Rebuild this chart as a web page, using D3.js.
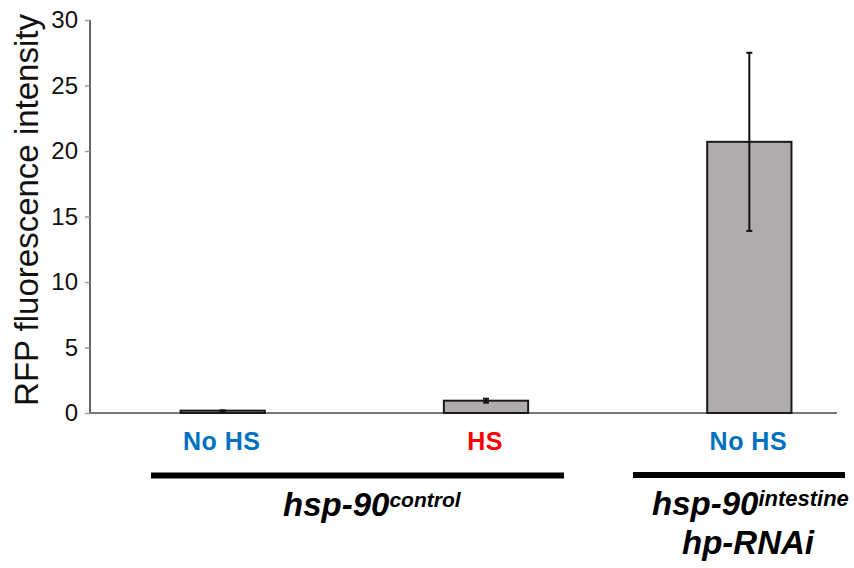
<!DOCTYPE html>
<html><head><meta charset="utf-8">
<script src="https://cdn.jsdelivr.net/npm/d3@7"></script>
<style>body{margin:0;background:#fff;} svg{display:block;font-family:Arial,"Liberation Sans",sans-serif;}</style>
</head><body>
<script>
const categories = ["No HS", "HS", "No HS"];
const catColors = ["#0070C0", "#FF0000", "#0070C0"];
const values = [0.18, 0.94, 20.7];
const errors = [0.02, 0.15, 6.8];
const yTicks = [0, 5, 10, 15, 20, 25, 30];

const W = 854, H = 568;
const svg = d3.select("body").append("svg").attr("width", W).attr("height", H);

const y = d3.scaleLinear().domain([0, 30]).range([413, 20]);
const x = d3.scaleBand().domain(d3.range(categories.length)).range([91, 881]).paddingInner(0.68).paddingOuter(0.34);

// y axis
const yAxis = d3.axisLeft(y).tickValues(yTicks).tickSize(5).tickPadding(7);
const ga = svg.append("g").attr("transform", "translate(90,0)").call(yAxis);
ga.select(".domain").attr("stroke", "#666").attr("stroke-width", 2).attr("d", "M0,20V413");
ga.selectAll(".tick line").attr("stroke", "#999").attr("stroke-width", 1.5);
ga.selectAll(".tick text").attr("font-size", 24).attr("fill", "#111").attr("font-family", "Arial, 'Liberation Sans', sans-serif");

// x axis baseline
svg.append("line").attr("x1", 90).attr("x2", 837).attr("y1", y(0)).attr("y2", y(0))
  .attr("stroke", "#777").attr("stroke-width", 2);

// bars
svg.selectAll("rect.bar").data(values).enter().append("rect").attr("class", "bar")
  .attr("x", (d, i) => x(i)).attr("width", x.bandwidth())
  .attr("y", d => y(d)).attr("height", d => y(0) - y(d))
  .attr("fill", "#b0abac").attr("stroke", "#1a1a1a").attr("stroke-width", 2);

// error bars
const eg = svg.selectAll("g.err").data(values).enter().append("g").attr("class", "err");
eg.append("line")
  .attr("x1", (d, i) => x(i) + x.bandwidth() / 2).attr("x2", (d, i) => x(i) + x.bandwidth() / 2)
  .attr("y1", (d, i) => y(d + errors[i])).attr("y2", (d, i) => y(d - errors[i]))
  .attr("stroke", "#111").attr("stroke-width", 2);
eg.each(function(d, i) {
  const cx = x(i) + x.bandwidth() / 2;
  [d + errors[i], d - errors[i]].forEach(v => {
    d3.select(this).append("line").attr("x1", cx - 3).attr("x2", cx + 3)
      .attr("y1", y(v)).attr("y2", y(v)).attr("stroke", "#111").attr("stroke-width", 2);
  });
});

// category labels
svg.selectAll("text.cat").data(categories).enter().append("text").attr("class", "cat")
  .attr("x", (d, i) => x(i) + x.bandwidth() / 2 - 1).attr("y", 450)
  .attr("text-anchor", "middle").attr("font-size", 25).attr("font-weight", "bold")
  .attr("letter-spacing", 0.5)
  .attr("fill", (d, i) => catColors[i]).text(d => d);

// y label
svg.append("text").attr("transform", "translate(38,210) rotate(-90)")
  .attr("text-anchor", "middle").attr("font-size", 33).attr("fill", "#111")
  .text("RFP fluorescence intensity");

// group bars
svg.append("rect").attr("x", 151).attr("y", 472.5).attr("width", 413).attr("height", 6).attr("fill", "#000");
svg.append("rect").attr("x", 633).attr("y", 472).attr("width", 212).attr("height", 6).attr("fill", "#000");

// group labels
const t1 = svg.append("text").attr("x", 283).attr("y", 516)
  .attr("font-size", 33).attr("font-weight", "bold").attr("font-style", "italic").attr("fill", "#000");
t1.append("tspan").text("hsp-90");
t1.append("tspan").attr("font-size", 21).attr("dy", -9).text("control");

const t2 = svg.append("text").attr("x", 652).attr("y", 515)
  .attr("font-size", 33).attr("font-weight", "bold").attr("font-style", "italic").attr("fill", "#000");
t2.append("tspan").text("hsp-90");
t2.append("tspan").attr("font-size", 22).attr("dy", -9).text("intestine");

svg.append("text").attr("x", 682).attr("y", 554)
  .attr("font-size", 33).attr("font-weight", "bold").attr("font-style", "italic").attr("fill", "#000")
  .text("hp-RNAi");
</script>
</body></html>
